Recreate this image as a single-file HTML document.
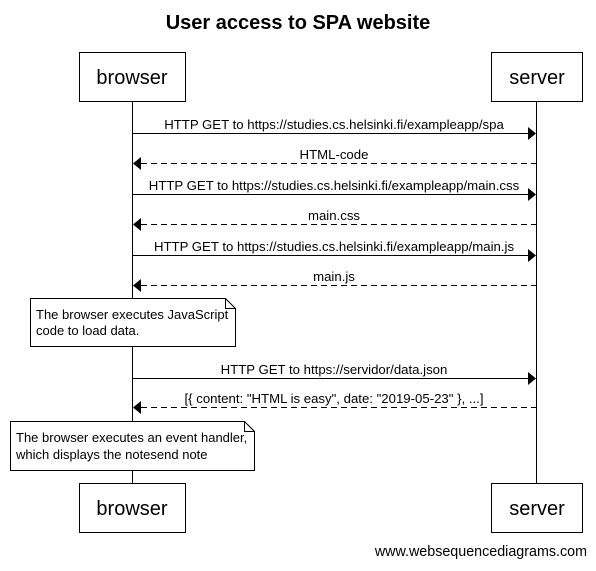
<!DOCTYPE html>
<html><head><style>body{margin:0;background:#fff}</style></head><body>
<svg width="596" height="566" xmlns="http://www.w3.org/2000/svg" font-family="Liberation Sans, Arial, sans-serif">
<rect width="596" height="566" fill="#fff"/>
<text x="298" y="29" text-anchor="middle" font-size="20" font-weight="bold">User access to SPA website</text>
<g stroke="#000" stroke-width="1" fill="#fff">
<line x1="132.5" y1="102" x2="132.5" y2="483"/>
<line x1="536.5" y1="102" x2="536.5" y2="483"/>
<rect x="79.5" y="52.5" width="106" height="49"/>
<rect x="491.5" y="52.5" width="91" height="49"/>
<rect x="79.5" y="483.5" width="106" height="49"/>
<rect x="491.5" y="483.5" width="91" height="49"/>
</g>
<g font-size="20" text-anchor="middle">
<text x="132" y="84">browser</text><text x="537" y="84">server</text>
<text x="132" y="515">browser</text><text x="537" y="515">server</text>
</g>
<g stroke="#000" stroke-width="1">
<line x1="133" y1="133.5" x2="528" y2="133.5"/>
<line x1="141" y1="163.5" x2="536" y2="163.5" stroke-dasharray="6,4"/>
<line x1="133" y1="194.5" x2="528" y2="194.5"/>
<line x1="141" y1="224.5" x2="536" y2="224.5" stroke-dasharray="6,4"/>
<line x1="133" y1="255.5" x2="528" y2="255.5"/>
<line x1="141" y1="285.5" x2="536" y2="285.5" stroke-dasharray="6,4"/>
<line x1="133" y1="378.5" x2="528" y2="378.5"/>
<line x1="141" y1="407.5" x2="536" y2="407.5" stroke-dasharray="6,4"/>
</g>
<g fill="#000">
<polygon points="528,127 536,133.5 528,140"/>
<polygon points="141,157 133,163.5 141,170"/>
<polygon points="528,188 536,194.5 528,201"/>
<polygon points="141,218 133,224.5 141,231"/>
<polygon points="528,249 536,255.5 528,262"/>
<polygon points="141,279 133,285.5 141,292"/>
<polygon points="528,372 536,378.5 528,385"/>
<polygon points="141,401 133,407.5 141,414"/>
</g>
<g font-size="13.2" text-anchor="middle">
<text x="334" y="129">HTTP GET to https://studies.cs.helsinki.fi/exampleapp/spa</text>
<text x="334" y="159">HTML-code</text>
<text x="334" y="190">HTTP GET to https://studies.cs.helsinki.fi/exampleapp/main.css</text>
<text x="334" y="220">main.css</text>
<text x="334" y="251">HTTP GET to https://studies.cs.helsinki.fi/exampleapp/main.js</text>
<text x="334" y="281">main.js</text>
<text x="334" y="374">HTTP GET to https://servidor/data.json</text>
<text x="334" y="403">[{ content: "HTML is easy", date: "2019-05-23" }, ...]</text>
</g>
<g stroke="#000" fill="#fff">
<polygon points="30.5,298.5 225.5,298.5 235.5,308.5 235.5,346.5 30.5,346.5"/>
<polyline points="225.5,298.5 225.5,308.5 235.5,308.5" fill="none"/>
<polygon points="10.5,421.5 244.5,421.5 254.5,431.5 254.5,470.5 10.5,470.5"/>
<polyline points="244.5,421.5 244.5,431.5 254.5,431.5" fill="none"/>
</g>
<g font-size="13">
<text x="36" y="319">The browser executes JavaScript</text>
<text x="36" y="335">code to load data.</text>
<text x="16" y="442">The browser executes an event handler,</text>
<text x="16" y="459">which displays the notesend note</text>
</g>
<text x="587" y="556" text-anchor="end" font-size="14.3">www.websequencediagrams.com</text>
</svg>
</body></html>
